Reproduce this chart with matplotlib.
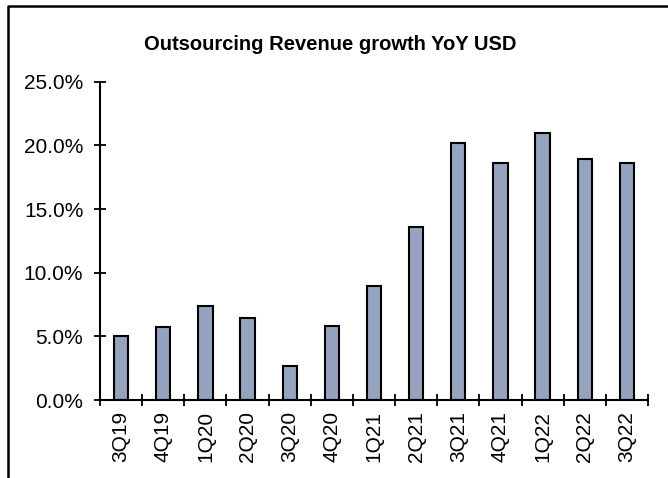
import matplotlib.pyplot as plt
from matplotlib.lines import Line2D
from matplotlib.ticker import FuncFormatter
import numpy as np

plt.rcParams['font.family'] = ['Liberation Sans', 'DejaVu Sans']

# quarterly outsourcing revenue growth, YoY in USD (%)
quarters = ["3Q19", "4Q19", "1Q20", "2Q20", "3Q20", "4Q20", "1Q21",
            "2Q21", "3Q21", "4Q21", "1Q22", "2Q22", "3Q22"]
growth = [5.05, 5.7, 7.4, 6.45, 2.7, 5.85, 8.95,
          13.6, 20.2, 18.6, 21.0, 18.9, 18.6]

fig = plt.figure(figsize=(6.68, 4.78), dpi=100)
ax = fig.add_axes([100 / 668, 78 / 478, 548 / 668, 318.3 / 478])

x = np.arange(len(quarters))
ax.bar(x, growth, width=0.34, color="#96A3BE", edgecolor="black", linewidth=1.5)

ax.set_xlim(-0.5, len(quarters) - 0.5)
ax.set_ylim(0, 25)
ax.set_yticks(np.arange(0, 26, 5))
ax.yaxis.set_major_formatter(FuncFormatter(lambda v, p: f"{v:.1f}%"))

# boundary ticks between categories, labels sit on the centres
ax.set_xticks(np.arange(-0.5, len(quarters), 1.0))
ax.set_xticklabels([])
ax.set_xticks(x, minor=True)
ax.set_xticklabels(quarters, minor=True, rotation=90, fontsize=15)
ax.tick_params(axis="x", which="minor", length=0, pad=8)
ax.tick_params(axis="x", which="major", direction="inout", length=9, width=1.3)
ax.tick_params(axis="y", direction="inout", length=8, width=1.3, labelsize=15, pad=8)

for side in ("top", "right"):
    ax.spines[side].set_visible(False)
for side in ("left", "bottom"):
    ax.spines[side].set_linewidth(1.5)

fig.text(330 / 668, 1 - 45 / 478, "Outsourcing Revenue growth YoY USD",
         ha="center", va="center", fontsize=14.5, fontweight="bold")

# chart frame (top and left edges)
fig.add_artist(Line2D([7.5 / 668, 7.5 / 668, 1.0], [0.0, 1 - 5.5 / 478, 1 - 5.5 / 478],
                      transform=fig.transFigure, color="black", linewidth=1.8))

plt.savefig("out.png", dpi=100)
